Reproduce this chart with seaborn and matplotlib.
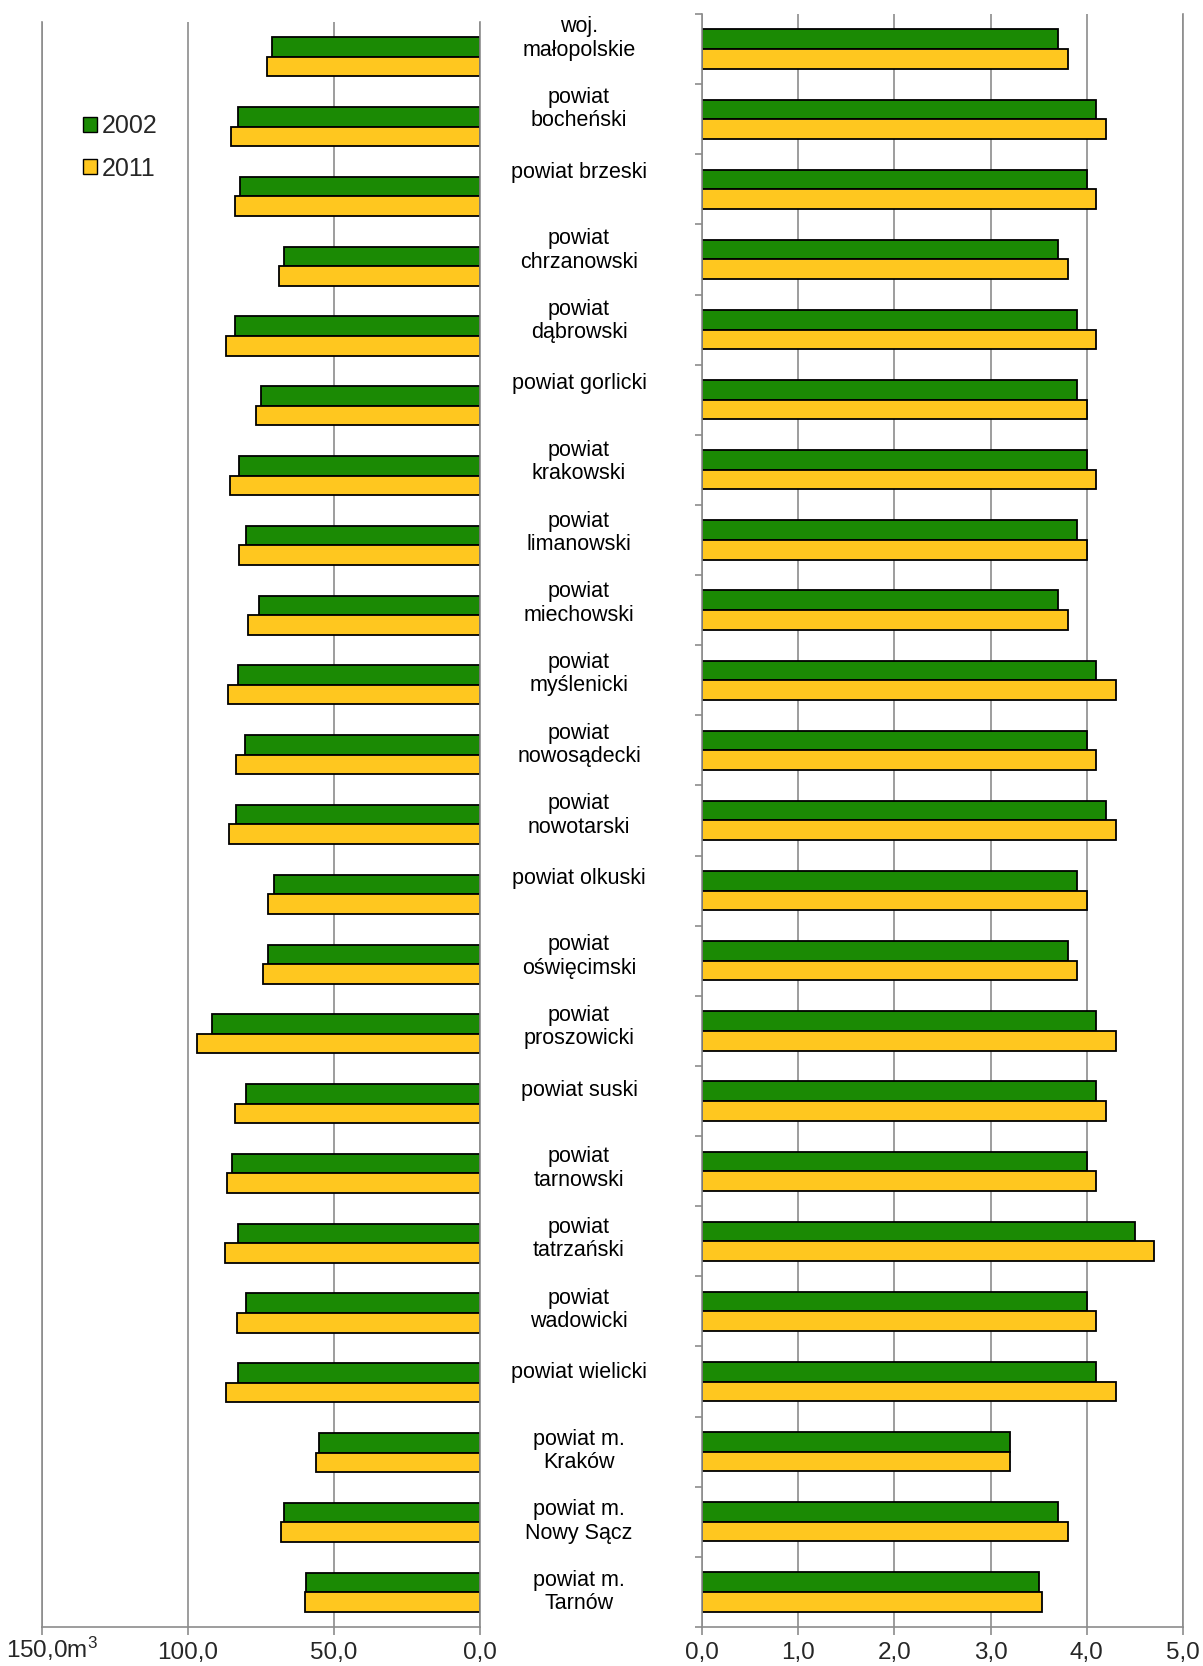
import numpy as np
import pandas as pd
import matplotlib
matplotlib.use("Agg")
import matplotlib.pyplot as plt
import matplotlib.transforms as mtransforms
from matplotlib.patches import Patch
import seaborn as sns

# dane
regiony = [
    "woj.\nmałopolskie", "powiat\nbocheński", "powiat brzeski", "powiat\nchrzanowski",
    "powiat\ndąbrowski", "powiat gorlicki", "powiat\nkrakowski", "powiat\nlimanowski",
    "powiat\nmiechowski", "powiat\nmyślenicki", "powiat\nnowosądecki", "powiat\nnowotarski",
    "powiat olkuski", "powiat\noświęcimski", "powiat\nproszowicki", "powiat suski",
    "powiat\ntarnowski", "powiat\ntatrzański", "powiat\nwadowicki", "powiat wielicki",
    "powiat m.\nKraków", "powiat m.\nNowy Sącz", "powiat m.\nTarnów",
]
lata = ["2002", "2011"]

# lewy panel (m3)
lewy_2002 = [71.4, 83.0, 82.1, 67.0, 83.8, 75.1, 82.4, 80.0, 75.6, 82.8, 80.6, 83.7,
             70.5, 72.6, 91.9, 80.1, 85.0, 83.0, 80.1, 82.9, 55.2, 67.0, 59.5]
lewy_2011 = [73.1, 85.4, 83.8, 68.9, 86.9, 76.6, 85.5, 82.5, 79.3, 86.4, 83.6, 85.9,
             72.6, 74.4, 97.0, 83.8, 86.6, 87.3, 83.1, 87.1, 56.0, 68.0, 59.8]

# prawy panel
prawy_2002 = [3.7, 4.1, 4.0, 3.7, 3.9, 3.9, 4.0, 3.9, 3.7, 4.1, 4.0, 4.2,
              3.9, 3.8, 4.1, 4.1, 4.0, 4.5, 4.0, 4.1, 3.2, 3.7, 3.50]
prawy_2011 = [3.8, 4.2, 4.1, 3.8, 4.1, 4.0, 4.1, 4.0, 3.8, 4.3, 4.1, 4.3,
              4.0, 3.9, 4.3, 4.2, 4.1, 4.7, 4.1, 4.3, 3.2, 3.8, 3.53]

lewe_ticki = [150, 100, 50, 0]
lewe_etykiety = ["150,0m$^3$", "100,0", "50,0", "0,0"]
prawe_ticki = [0, 1, 2, 3, 4, 5]
prawe_etykiety = ["0,0", "1,0", "2,0", "3,0", "4,0", "5,0"]

ZIELONY = "#1B8A04"
ZOLTY = "#FFC71F"
SZARY = "#8C8C8C"


def dlugie(v2002, v2011):
    return pd.DataFrame({
        "region": regiony * 2,
        "rok": [lata[0]] * len(regiony) + [lata[1]] * len(regiony),
        "wartosc": list(v2002) + list(v2011),
    })


def styl_osi(ax):
    ax.set_xlabel("")
    ax.set_ylabel("")
    ax.spines["top"].set_visible(False)
    for s in ["left", "right", "bottom"]:
        ax.spines[s].set_color(SZARY)
        ax.spines[s].set_linewidth(1.2)
    ax.grid(axis="x", color=SZARY, linewidth=1.2)
    ax.grid(axis="y", visible=False)
    ax.set_axisbelow(True)
    ax.tick_params(axis="x", direction="out", length=5.5, width=1.2, color=SZARY,
                   labelsize=17.5, pad=5, bottom=True)


sns.set_theme(style="white")
plt.rcParams["font.family"] = ["Liberation Sans", "DejaVu Sans"]
plt.rcParams["mathtext.fontset"] = "custom"
plt.rcParams["mathtext.rm"] = "Liberation Sans"
plt.rcParams["mathtext.it"] = "Liberation Sans:italic"
plt.rcParams["mathtext.default"] = "rm"

fig = plt.figure(figsize=(12.03, 16.66), dpi=100)
ax_l = fig.add_axes([42 / 1203, 39 / 1666, 438 / 1203, 1605 / 1666])
ax_r = fig.add_axes([702 / 1203, 39 / 1666, 481 / 1203, 1613 / 1666])

kw = dict(y="region", x="wartosc", hue="rok", orient="h", palette=[ZIELONY, ZOLTY],
          width=0.56, edgecolor="black", linewidth=1.3, legend=False, saturation=1)

sns.barplot(data=dlugie(lewy_2002, lewy_2011), ax=ax_l, **kw)
sns.barplot(data=dlugie(prawy_2002, prawy_2011), ax=ax_r, **kw)

# lewy panel: odwrocona os
styl_osi(ax_l)
ax_l.set_xlim(150, 0)
ax_l.set_xticks(lewe_ticki)
ax_l.set_xticklabels(lewe_etykiety)
ax_l.tick_params(axis="y", left=False, labelleft=False)
pierwsza = ax_l.get_xticklabels()[0]
pierwsza.set_transform(pierwsza.get_transform()
                       + mtransforms.ScaledTranslation(10 / 100, 7 / 100, fig.dpi_scale_trans))

# prawy panel
styl_osi(ax_r)
ax_r.set_xlim(0, 5)
ax_r.set_xticks(prawe_ticki)
ax_r.set_xticklabels(prawe_etykiety)
ax_r.set_yticks(np.arange(-0.5, len(regiony), 1))
ax_r.set_yticklabels([])
ax_r.set_ylim(len(regiony) - 0.5, -0.5)
ax_r.tick_params(axis="y", left=True, direction="out", length=5, width=1.2, color=SZARY)

# etykiety regionow pomiedzy panelami
for i, nazwa in enumerate(regiony):
    dy = -0.15 + 0.007 * i
    if "\n" not in nazwa:
        dy -= 0.11
    ax_r.text(-0.2557, i + dy, nazwa, transform=ax_r.get_yaxis_transform(),
              ha="center", va="center", multialignment="center",
              fontsize=15.5, linespacing=1.15, color="black", clip_on=False)

# legenda
uchwyty = [Patch(facecolor=ZIELONY, edgecolor="black", linewidth=1.0, label=lata[0]),
           Patch(facecolor=ZOLTY, edgecolor="black", linewidth=1.0, label=lata[1])]
fig.legend(handles=uchwyty, loc="upper left", bbox_to_anchor=(83 / 1203, 1 - 114 / 1666),
           frameon=False, borderpad=0, borderaxespad=0, fontsize=18,
           handlelength=0.55, handleheight=0.55, handletextpad=0.2, labelspacing=0.75)

fig.savefig("out.png", dpi=100)
